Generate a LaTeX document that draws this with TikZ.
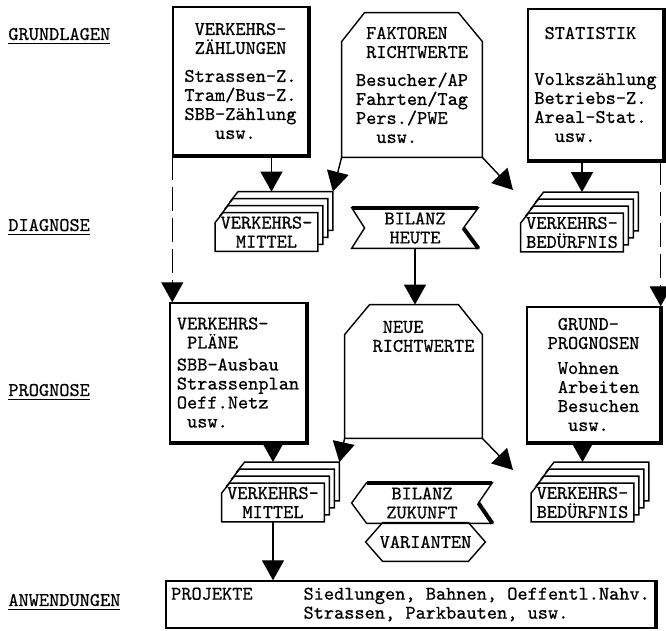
\documentclass[tikz,border=0pt]{standalone}
\usepackage{fontspec}
\setmonofont{Latin Modern Mono}[FakeBold=0.6]
\usetikzlibrary{arrows.meta,calc,positioning}
\pgfdeclarelayer{background}
\pgfsetlayers{background,main}
\tikzset{
  txt/.style={font=\ttfamily\fontsize{9.7}{9.5}\selectfont\frenchspacing, align=left, inner sep=0pt},
  box/.style={txt, draw, line width=0.7pt},
  sheet/.style={txt, align=center, minimum width=51pt, minimum height=19pt},
  flag/.style={txt, align=center},
  arr/.style={line width=0.7pt, -{Triangle[length=10pt,width=11pt]}},
  dashline/.style={arr, dash pattern=on 12pt off 3.5pt},
  thickedge/.style={line width=2pt},
  outline/.style={line width=0.7pt}
}
\begin{document}
\begin{tikzpicture}[x=0.5pt,y=-0.5pt]
\useasboundingbox (0,0) rectangle (666,631);
% stages on the left
\node[txt,anchor=base west] (grund) at (8,40) {\underline{GRUNDLAGEN}};
\node[txt,anchor=base west] (diag) at (8,231) {\underline{DIAGNOSE}};
\node[txt,anchor=base west] (progn) at (8,396) {\underline{PROGNOSE}};
\node[txt,anchor=base west] (anw) at (8,606) {\underline{ANWENDUNGEN}};
% first row
\node[box, minimum width=67.5pt, minimum height=74pt] (zaehl) at (240.5,81)
  {\phantom{x}VERKEHRS-\\\phantom{x}ZÄHLUNGEN\\[4.5pt]Strassen-Z.\\Tram/Bus-Z.\\SBB-Zählung\\\phantom{xxx}usw.};
\node[txt, minimum width=70pt, minimum height=72pt] (fak) at (412,85)
  {\phantom{x}FAKTOREN\\\phantom{x}RICHTWERTE\\[4.5pt]Besucher/AP\\Fahrten/Tag\\Pers./PWE\\\phantom{xx}usw.};
\draw[outline] (fak.south west) -- ($(fak.north west)+(0,29)$) -- ($(fak.north west)+(23,0)$)
  -- ($(fak.north east)+(-24,0)$) -- ($(fak.north east)+(0,29)$) -- (fak.south east) -- cycle;
\node[box, minimum width=67.5pt, minimum height=75.5pt] (stat) at (595.5,84.5)
  {\phantom{x}STATISTIK\\[13.5pt]Volkszählung\\Betriebs-Z.\\Areal-Stat.\\\phantom{xx}usw.};
% second row
\node[sheet] (vm1) at (266.5,232) {VERKEHRS-\\MITTEL};
\foreach \i/\s in {1/a,2/b,3/c}
  \node[sheet] (vm1\s) at ($(vm1)+(5*\i,-7*\i)$) {};
\node[sheet] (vb1) at (572,232.5) {VERKEHRS-\\BEDÜRFNIS};
\foreach \i/\s in {1/a,2/b,3/c}
  \node[sheet] (vb1\s) at ($(vb1)+(5*\i,-7*\i)$) {};
\node[flag, minimum width=63pt, minimum height=20pt] (heute) at (415,228) {BILANZ\\HEUTE};
\draw[outline] (heute.north west) -- (heute.north east) -- ($(heute.east)+(-15,0)$)
  -- (heute.south east) -- (heute.south west) -- ($(heute.west)+(13,0)$) -- cycle;
\draw[thickedge] (heute.north west) -- (heute.north east);
\draw[thickedge] ($(heute.east)+(-15,0)$) -- (heute.south east);
% third row
\node[box, minimum width=68pt, minimum height=69.5pt] (plaene) at (238,372.5)
  {VERKEHRS-\\\phantom{x}PLÄNE\\[1.5pt]SBB-Ausbau\\Strassenplan\\Oeff.Netz\\\phantom{x}usw.};
\node[txt, minimum width=68.5pt, minimum height=66.5pt] (neu) at (413.5,371.5) {};
\node[txt, anchor=north] (neutext) at ($(neu.north)+(10,16)$) {\phantom{x}NEUE\\RICHTWERTE};
\draw[outline] (neu.south west) -- ($(neu.north west)+(0,30)$) -- ($(neu.north west)+(25,0)$)
  -- ($(neu.north east)+(-24,0)$) -- ($(neu.north east)+(0,30)$) -- (neu.south east) -- cycle;
\node[box, minimum width=66.5pt, minimum height=67.5pt] (prog) at (593.5,374.5)
  {\phantom{x}GRUND-\\PROGNOSEN\\[3pt]\phantom{x}Wohnen\\\phantom{x}Arbeiten\\\phantom{x}Besuchen\\\phantom{xx}usw.};
% fourth row
\node[sheet] (vm2) at (273,502.5) {VERKEHRS-\\MITTEL};
\foreach \i/\s in {1/a,2/b,3/c}
  \node[sheet] (vm2\s) at ($(vm2)+(5*\i,-7*\i)$) {};
\node[sheet] (vb2) at (582.5,502.5) {VERKEHRS-\\BEDÜRFNIS};
\foreach \i/\s in {1/a,2/b,3/c}
  \node[sheet] (vb2\s) at ($(vb2)+(5*\i,-7*\i)$) {};
\node[flag, minimum width=70pt, minimum height=20pt] (zukunft) at (422,503) {BILANZ\\ZUKUNFT};
\draw[outline] ($(zukunft.north west)+(15,0)$) -- (zukunft.north east) -- ($(zukunft.east)+(-14,0)$)
  -- (zukunft.south east) -- ($(zukunft.south west)+(15,0)$) -- (zukunft.west) -- cycle;
\draw[thickedge] ($(zukunft.north west)+(15,0)$) -- (zukunft.north east);
\draw[thickedge] ($(zukunft.east)+(-14,0)$) -- (zukunft.south east);
\node[flag, minimum width=59.5pt, minimum height=19pt] (var) at (425.5,542) {VARIANTEN};
\draw[outline] (var.west) -- ($(var.north west)+(17,0)$) -- ($(var.north east)+(-17,0)$) -- (var.east)
  -- ($(var.south east)+(-17,0)$) -- ($(var.south west)+(17,0)$) -- cycle;
% last row
\node[box, minimum width=244.5pt, minimum height=23.5pt] (proj) at (410.5,604.5)
  {PROJEKTE\phantom{xxxxx}Siedlungen, Bahnen, Oeffentl.Nahv.\\\phantom{PROJEKTExxxxx}Strassen, Parkbauten, usw.};
% shadow edges
\foreach \n in {zaehl,stat,plaene,prog}
  \draw[thickedge] (\n.north east) -- (\n.south east) -- (\n.south west);
\draw[thickedge] (proj.north east) -- (proj.south east);
% stacked sheets
\begin{pgfonlayer}{background}
\foreach \n in {vm1c,vm1b,vm1a,vm1,vb1c,vb1b,vb1a,vb1,vm2c,vm2b,vm2a,vm2,vb2c,vb2b,vb2a,vb2}
  \draw[outline, fill=white] (\n.south west) -- ($(\n.north west)+(0,10)$) -- ($(\n.north west)+(8,0)$)
    -- (\n.north east) -- (\n.south east) -- cycle;
\end{pgfonlayer}
% connectors
\coordinate (fakr) at (513,190);
\coordinate (neur) at (513,470);
\draw[arr] (zaehl.south -| vm1a) -- (vm1a |- vm1c.north);
\draw[arr] (fak.south west) -- (vm1c.north east);
\draw[arr] (fak.south east) -- (fakr);
\draw[arr] (stat.south -| vb1b) -- (vb1b |- vb1c.north);
\draw[dashline] (zaehl.south west) -- (zaehl.south west |- plaene.north);
\draw[dashline] (prog.north east |- stat.south) -- (prog.north east);
\draw[arr] (heute.south) -- (heute.south |- neu.north);
\draw[arr] (plaene.south -| vm2) -- (vm2 |- vm2c.north);
\draw[arr] (neu.south west) -- (vm2c.north east);
\draw[arr] (neu.south east) -- (neur);
\draw[arr] (prog.south -| vb2) -- (vb2 |- vb2c.north);
\draw[arr] (vm2.south) -- (vm2.south |- proj.north);
\end{tikzpicture}
\end{document}
